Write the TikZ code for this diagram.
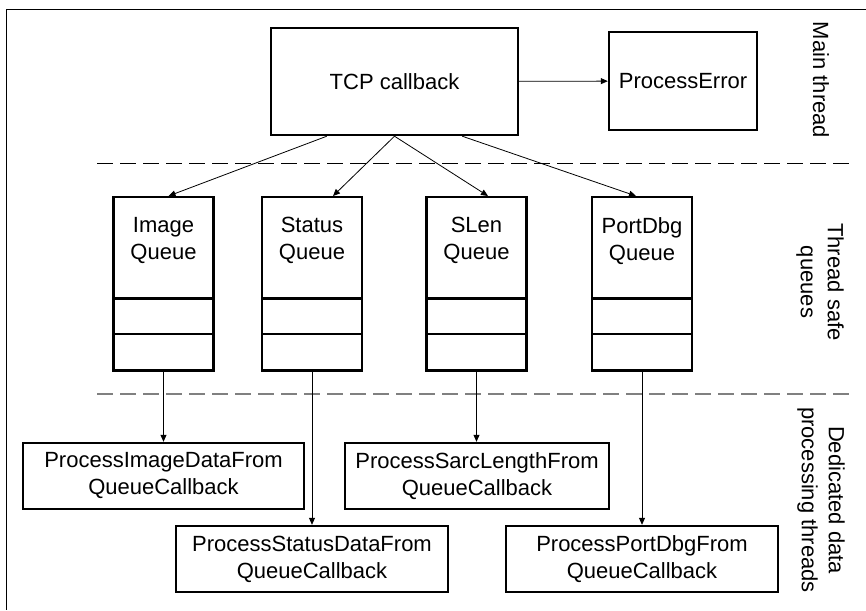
\documentclass[tikz,border=0pt]{standalone}
\usepackage{fontspec}
\setmainfont{Liberation Sans}
\usepackage{tikz}
\usetikzlibrary{shapes,shapes.multipart}
\usetikzlibrary{calc,arrows.meta,positioning}

\begin{document}
\begin{tikzpicture}[x=1pt,y=-1pt]
			\tikzstyle{every node}=[font=\fontsize{22}{27}\selectfont]
			\tikzstyle{box}=[draw,line width=2.4pt,align=center,inner sep=0pt]
			\tikzstyle{qnode}=[rectangle split,rectangle split parts=3,draw,line width=2.4pt,inner sep=0pt,anchor=north]
			\tikzstyle{lbl}=[rotate=-90,align=center]
			\tikzstyle{link}=[line width=0.8pt,-{Triangle[length=7pt,width=6pt]}]
			\tikzstyle{sep}=[dash pattern=on 16pt off 7pt]
			\useasboundingbox (0,0) rectangle (866,610);
			% frame and thread borders
			\draw (866,9) -- (6,9) -- (6,610);
			\draw[sep] (97,163) -- (853,163);
			\draw[sep,gray,line width=1.6pt] (97,394) -- (851,394);
			% main thread
			\node[box,minimum width=247pt,minimum height=107pt] (tcp) at (394.5,81.5) {TCP callback};
			\node[box,minimum width=148pt,minimum height=98pt] (perr) at (683,81) {ProcessError};
			% queues
			\node[qnode] (imgq) at (163.5,196) {\parbox[c][99pt][t]{100pt}{\centering\vspace*{19pt}Image\\Queue} \nodepart{two}\rule{0pt}{33pt} \nodepart{three}\rule{0pt}{34pt}};
			\node[qnode] (stq) at (312,196) {\parbox[c][99pt][t]{100pt}{\centering\vspace*{19pt}Status\\Queue} \nodepart{two}\rule{0pt}{33pt} \nodepart{three}\rule{0pt}{34pt}};
			\node[qnode] (slq) at (476.5,196) {\parbox[c][99pt][t]{100pt}{\centering\vspace*{19pt}SLen\\Queue} \nodepart{two}\rule{0pt}{33pt} \nodepart{three}\rule{0pt}{34pt}};
			\node[qnode] (pdq) at (642,196) {\parbox[c][99pt][t]{100pt}{\centering\vspace*{19pt}PortDbg\\Queue} \nodepart{two}\rule{0pt}{33pt} \nodepart{three}\rule{0pt}{34pt}};
			% processing threads
			\node[box,minimum width=281pt,minimum height=66pt] (imgp) at (163.5,476) {ProcessImageDataFrom\\QueueCallback};
			\node[box,minimum width=272pt,minimum height=66pt] (stp) at (312,559) {ProcessStatusDataFrom\\QueueCallback};
			\node[box,minimum width=264pt,minimum height=66pt] (slp) at (477,476) {ProcessSarcLengthFrom\\QueueCallback};
			\node[box,minimum width=272pt,minimum height=66pt] (pdp) at (642,559) {ProcessPortDbgFrom\\QueueCallback};
			% side labels
			\node[lbl] (mainlbl) at (821,80) {Main thread};
			\node[lbl] (qlbl) at (820,282) {Thread safe\\queues};
			\node[lbl] (plbl) at (821,500) {Dedicated data\\processing threads};
			% connectors
			\draw[link] (tcp) -- (perr);
			\draw[link] ([xshift=57pt]tcp.south west) -- ([xshift=5pt]imgq.north);
			\draw[link] (tcp.south) -- ([xshift=21pt]stq.north);
			\draw[link] (tcp.south) -- ([xshift=11.5pt]slq.north);
			\draw[link] ([xshift=-57pt]tcp.south east) -- ([xshift=-6pt]pdq.north);
			\draw[link] (imgq.south) -- (imgq.south |- imgp.north);
			\draw[link] (stq.south) -- (stq.south |- stp.north);
			\draw[link] (slq.south) -- (slq.south |- slp.north);
			\draw[link] (pdq.south) -- (pdq.south |- pdp.north);
		\end{tikzpicture}
\end{document}
